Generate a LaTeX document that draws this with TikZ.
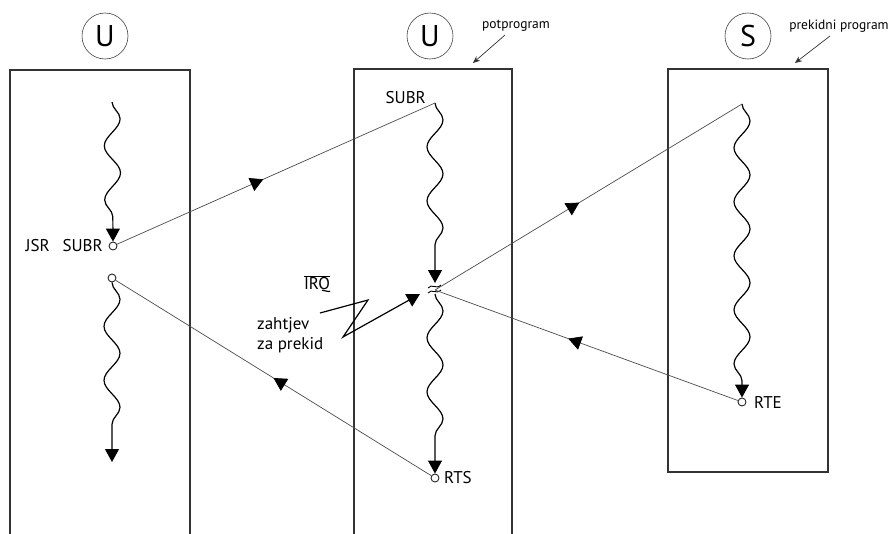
\documentclass[tikz,border=0pt]{standalone}
\usepackage{fontspec}
\setmainfont{PT Sans}
\usepackage{tikz}
\usetikzlibrary{arrows.meta,decorations.pathmorphing,decorations.markings,positioning}

\tikzset{Mid/.style={postaction={decorate, decoration={markings, mark=at position #1 with {\arrow[black]{Triangle[width=14pt,length=13pt]}}}}}}

\begin{document}
\begin{tikzpicture}[x=1pt, y=-1pt]
			\tikzstyle{Frame}	= [draw=black!80, line width=1.2pt]
			\tikzstyle{Mode}	= [circle, draw=black!75, line width=0.6pt, minimum size=46pt, inner sep=0pt, font=\fontsize{30}{30}\selectfont]
			\tikzstyle{Dot}		= [circle, draw=black!85, fill=white, line width=0.9pt, minimum size=8pt, inner sep=0pt]
			\tikzstyle{Flow}	= [black, line width=1.2pt, decorate, decoration={snake, amplitude=8pt, segment length=54pt, post length=14pt}, -{Triangle[width=14pt,length=13pt]}]
			\tikzstyle{Jump}	= [black!70, line width=0.7pt]
			\tikzstyle{Lbl}		= [font=\fontsize{17}{20}\selectfont, inner sep=0pt]
			\tikzstyle{Note}	= [font=\fontsize{13.5}{15}\selectfont, inner sep=0pt]

			\useasboundingbox (0,0) rectangle (896,533);
			\clip (0,0) rectangle (896,533);

			% programs
			\draw [Frame] (10,545) -- (10,70) -- (190,70) -- (190,545);
			\draw [Frame] (354,545) -- (354,69) -- (512,69) -- (512,545);
			\draw [Frame] (668,69) rectangle (828,472);
			\foreach \n/\x/\t in {m1/105/U, m2/430/U, m3/748/S}
				\node (\n) at (\x, 36) [Mode] {\t};

			\node (pot) at (516, 26) [Note] {potprogram};
			\node (pre) at (839, 26) [Note] {prekidni program};
			\draw [-{Stealth[length=7pt,width=6pt]}, black!80, line width=0.7pt] (505,35) -- (473,63);
			\draw [-{Stealth[length=7pt,width=6pt]}, black!80, line width=0.7pt] (830,36) -- (795,63);

			% points
			\coordinate (a0) at (112,102);
			\node (jsr) at (113,246) [Dot] {};
			\node (ret) at (112,278) [Dot] {};
			\coordinate (a1) at (112,462);
			\coordinate (s0) at (435,103);
			\coordinate (brk) at (435,290);
			\coordinate (b0) at (435,283);
			\coordinate (b1) at (435,294);
			\node (rts) at (435,478) [Dot] {};
			\coordinate (p0) at (742,104);
			\node (rte) at (742,402) [Dot] {};

			\node [Lbl, anchor=east] at (103,246) {JSR\hspace{13pt}SUBR};
			\node [Lbl, anchor=east] at (426,98) {SUBR};
			\node [Lbl, anchor=west] at (444,478) {RTS};
			\node [Lbl, anchor=west] at (754,402) {RTE};

			% flow inside programs
			\draw [Flow] (a0) -- (jsr.north);
			\draw [Flow] (ret.south) -- (a1);
			\draw [Flow] (s0) -- (b0);
			\draw [Flow] (b1) -- (rts.north);
			\draw [Flow] (p0) -- (rte.north);

			% break marks
			\draw [black, line width=0.9pt] (428,288) .. controls (432,283) and (436,290) .. (441,285);
			\draw [black, line width=0.9pt] (428,293) .. controls (432,288) and (436,295) .. (441,290);

			% jumps
			\draw [Jump, Mid=0.46] (jsr) -- (s0);
			\draw [Jump, Mid=0.47] (brk) -- (p0);
			\draw [Jump, Mid=0.56] (rte) -- (brk);
			\draw [Jump, Mid=0.5] (rts) -- (ret);

			% interrupt request
			\node (irq) at (317,284) [Lbl] {$\overline{\mbox{IRQ}}$};
			\node (req) at (257,335) [Lbl, anchor=west, align=left] {zahtjev\\za prekid};
			\coordinate (z0) at (320,313);
			\coordinate (z1) at (368,300);
			\coordinate (z2) at (343,337);
			\coordinate (z3) at (420,294);
			\draw [black, line width=1.2pt, -{Triangle[width=14pt,length=13pt]}] (z0) -- (z1) -- (z2) -- (z3);
		\end{tikzpicture}
\end{document}
